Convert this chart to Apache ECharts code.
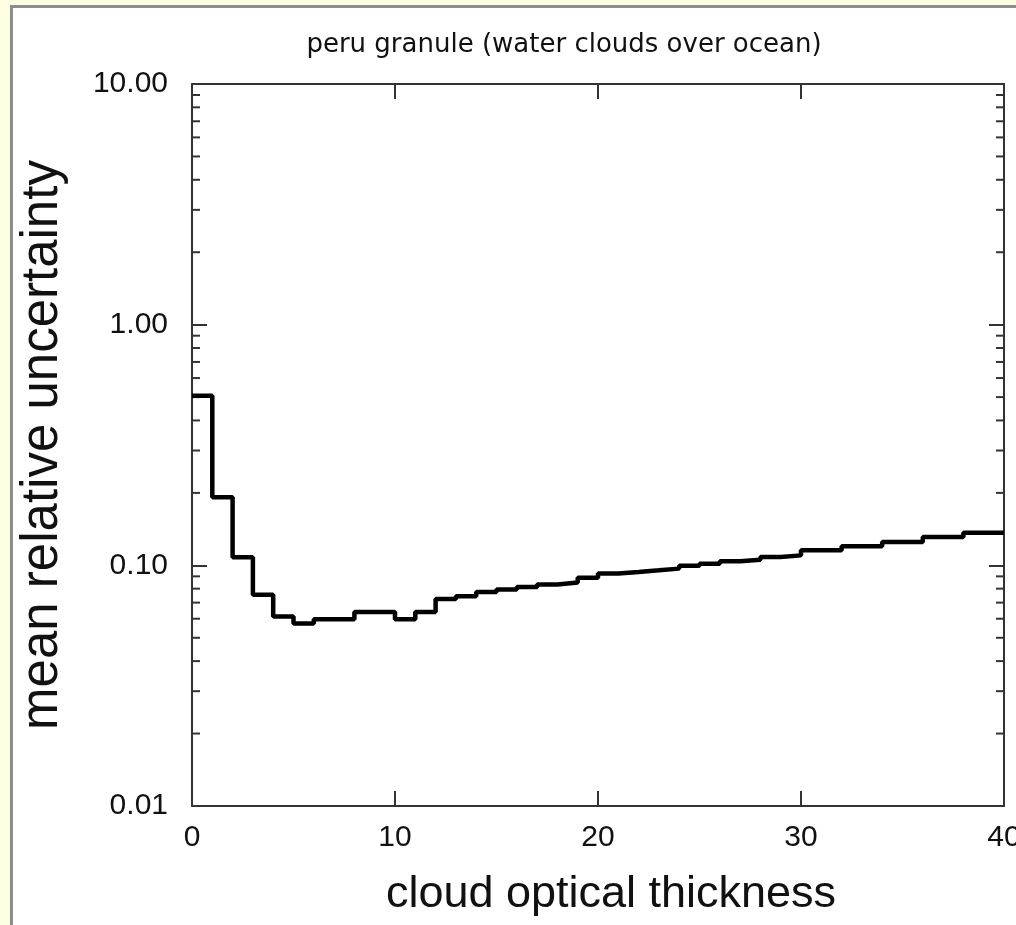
<!DOCTYPE html>
<html>
<head>
<meta charset="utf-8">
<script src="https://cdn.jsdelivr.net/npm/echarts@6/dist/echarts.min.js"></script>
<style>
  html, body { margin: 0; padding: 0; width: 1016px; height: 925px; overflow: hidden; background: #fdfde2; }
  #panel { position: absolute; left: 10px; top: 5px; width: 1100px; height: 1000px; border: 3px solid #8d8d8d; background: #fff; }
  #chart { position: absolute; left: 0; top: 0; width: 1016px; height: 925px; }
</style>
</head>
<body>
<div id="panel"></div>
<div id="chart"></div>
<script>
// bin left edges (cloud optical thickness) and mean relative uncertainty per bin
const binEdges = [0, 1, 2, 3, 4, 5, 6, 7, 8, 9, 10, 11, 12, 13, 14, 15, 16, 17, 18, 19,
    20, 21, 22, 23, 24, 25, 26, 27, 28, 29, 30, 31, 32, 33, 34, 35, 36, 37, 38, 39, 40];
const uncertainty = [0.507, 0.192, 0.108, 0.0755, 0.0613, 0.0573, 0.0597, 0.0597, 0.064, 0.064,
    0.0597, 0.064, 0.0725, 0.0744, 0.0775, 0.0793, 0.0813, 0.0832, 0.0848, 0.0889,
    0.0924, 0.0938, 0.0953, 0.0969, 0.0996, 0.1016, 0.1039, 0.1056, 0.1083, 0.110,
    0.1154, 0.1154, 0.1199, 0.1199, 0.125, 0.125, 0.131, 0.131, 0.1366, 0.1366];
const xTicks = [0, 10, 20, 30, 40];
const yTicks = [0.01, 0.1, 1, 10];
const yMinorTicks = [0.02, 0.03, 0.04, 0.05, 0.06, 0.07, 0.08, 0.09,
    0.2, 0.3, 0.4, 0.5, 0.6, 0.7, 0.8, 0.9,
    2, 3, 4, 5, 6, 7, 8, 9];

const stepData = binEdges.map(function (x, i) {
    return [x, i < uncertainty.length ? uncertainty[i] : uncertainty[uncertainty.length - 1]];
});

const chart = echarts.init(document.getElementById('chart'), null, { renderer: 'canvas' });

const labelFont = { color: '#111', fontFamily: 'Liberation Sans', fontSize: 30 };
const frameLine = { show: true, onZero: false, lineStyle: { color: '#333', width: 2 } };
const majorTick = { show: true, inside: true, length: 15, lineStyle: { color: '#333', width: 2 } };

chart.setOption({
    backgroundColor: 'transparent',
    animation: false,
    title: {
        text: 'peru granule (water clouds over ocean)',
        left: 559,
        top: 27,
        textAlign: 'center',
        textStyle: { color: '#111', fontFamily: 'DejaVu Sans', fontSize: 26, fontWeight: 'normal' }
    },
    grid: { left: 192, right: 12, top: 84, bottom: 119, outerBoundsMode: 'none', containLabel: false },
    xAxis: [{
        type: 'value',
        min: xTicks[0],
        max: xTicks[xTicks.length - 1],
        interval: 10,
        position: 'bottom',
        name: 'cloud optical thickness',
        nameLocation: 'middle',
        nameGap: 66,
        nameTextStyle: { color: '#111', fontFamily: 'Liberation Sans', fontSize: 45, padding: [0, 0, 0, 26] },
        axisLine: frameLine,
        axisTick: majorTick,
        axisLabel: Object.assign({ margin: 17 }, labelFont),
        splitLine: { show: false }
    }, {
        type: 'value',
        min: xTicks[0],
        max: xTicks[xTicks.length - 1],
        interval: 10,
        position: 'top',
        axisLine: frameLine,
        axisTick: majorTick,
        axisLabel: { show: false },
        splitLine: { show: false }
    }],
    yAxis: [{
        type: 'log',
        logBase: 10,
        min: yTicks[0],
        max: yTicks[yTicks.length - 1],
        position: 'left',
        name: 'mean relative uncertainty',
        nameLocation: 'middle',
        nameGap: 124,
        nameTextStyle: { color: '#111', fontFamily: 'Liberation Sans', fontSize: 51 },
        axisLine: frameLine,
        axisTick: majorTick,
        axisLabel: Object.assign({ margin: 24, formatter: function (v) { return Number(v).toFixed(2); } }, labelFont),
        splitLine: { show: false }
    }, {
        type: 'log',
        logBase: 10,
        min: yTicks[0],
        max: yTicks[yTicks.length - 1],
        position: 'right',
        axisLine: frameLine,
        axisTick: majorTick,
        axisLabel: { show: false },
        splitLine: { show: false }
    }],
    series: [{
        type: 'line',
        step: 'end',
        data: stepData,
        symbol: 'none',
        lineStyle: { color: '#000', width: 4.5 },
        z: 5
    }, {
        // log minor ticks on left and right edges
        type: 'custom',
        silent: true,
        data: yMinorTicks.map(function (v) { return [0, v]; }),
        renderItem: function (params, api) {
            const cs = params.coordSys;
            const y = api.coord([0, api.value(1)])[1];
            const style = { stroke: '#333', lineWidth: 2 };
            return {
                type: 'group',
                children: [
                    { type: 'line', shape: { x1: cs.x, y1: y, x2: cs.x + 8, y2: y }, style: style },
                    { type: 'line', shape: { x1: cs.x + cs.width - 8, y1: y, x2: cs.x + cs.width, y2: y }, style: style }
                ]
            };
        }
    }]
});
</script>
</body>
</html>
